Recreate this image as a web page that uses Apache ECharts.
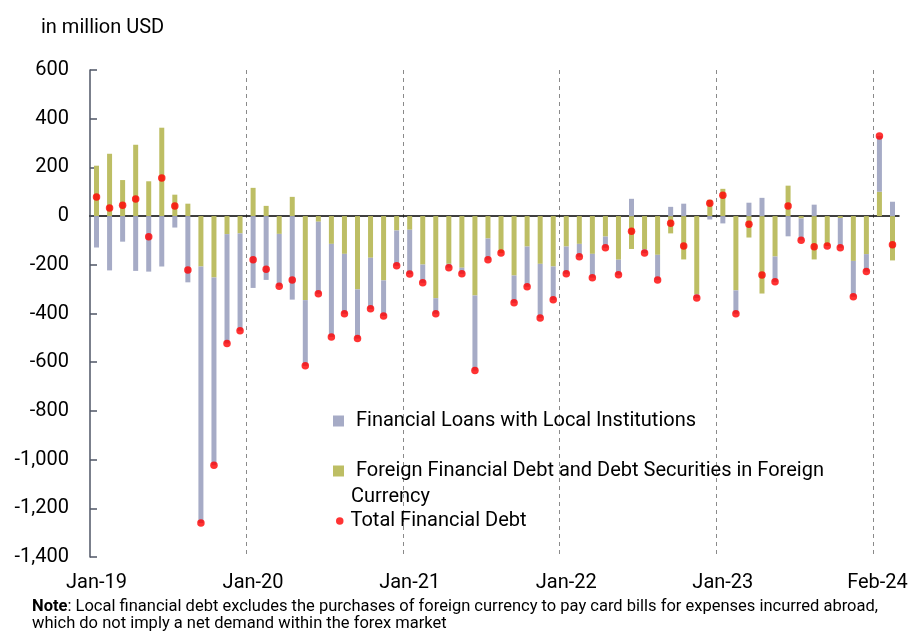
<!DOCTYPE html>
<html><head><meta charset="utf-8">
<script src="https://cdn.jsdelivr.net/npm/echarts@6/dist/echarts.min.js"></script>
<style>html,body{margin:0;padding:0;background:#fff}#c{width:908px;height:631px}</style>
</head><body><div id="c"></div>
<script>
const categories = [
 'Jan-19','Feb-19','Mar-19','Apr-19','May-19','Jun-19','Jul-19','Aug-19','Sep-19','Oct-19','Nov-19','Dec-19',
 'Jan-20','Feb-20','Mar-20','Apr-20','May-20','Jun-20','Jul-20','Aug-20','Sep-20','Oct-20','Nov-20','Dec-20',
 'Jan-21','Feb-21','Mar-21','Apr-21','May-21','Jun-21','Jul-21','Aug-21','Sep-21','Oct-21','Nov-21','Dec-21',
 'Jan-22','Feb-22','Mar-22','Apr-22','May-22','Jun-22','Jul-22','Aug-22','Sep-22','Oct-22','Nov-22','Dec-22',
 'Jan-23','Feb-23','Mar-23','Apr-23','May-23','Jun-23','Jul-23','Aug-23','Sep-23','Oct-23','Nov-23','Dec-23',
 'Jan-24','Feb-24'
];
const foreignDebt = [
 207, 256, 148, 293, 143, 363, 88, 51, -207, -252, -74, -71,
 116, 42, -73, 79, -345, -23, -114, -155, -301, -171, -264, -59,
 -56, -199, -337, -196, -212, -326, -92, -152, -244, -125, -196, -207,
 -125, -114, -155, -84, -179, -135, -136, -159, -71, -178, -321, 67,
 112, -305, -88, -318, -166, 125, -10, -178, -123, -8, -184, -156,
 100, -182
];
const localLoans = [
 -129, -223, -105, -225, -228, -207, -47, -272, -1053, -771, -449, -400,
 -295, -262, -215, -343, -270, -296, -382, -246, -202, -210, -146, -145,
 -182, -75, -64, -16, -25, -308, -87, 0, -112, -165, -222, -137,
 -112, -53, -98, -46, -62, 71, -16, -103, 38, 51, -15, -14,
 -30, -96, 55, 75, -104, -83, -89, 47, 0, -122, -147, -72,
 229, 59
];
const totalDebt = [
 78, 33, 45, 70, -85, 156, 41, -221, -1260, -1023, -523, -471,
 -179, -218, -288, -262, -615, -319, -496, -401, -503, -381, -410, -204,
 -238, -274, -401, -212, -237, -634, -179, -152, -356, -290, -418, -344,
 -237, -167, -253, -130, -241, -62, -152, -262, -29, -123, -336, 53,
 86, -401, -33, -242, -270, 41, -99, -126, -123, -130, -331, -228,
 329, -118
];
const xTickLabels = ['Jan-19', 'Jan-20', 'Jan-21', 'Jan-22', 'Jan-23', 'Feb-24'];
const yearStartStep = 12;
const yTicks = { min: -1400, max: 600, interval: 200 };

const NAME_LOANS = 'Financial Loans with Local Institutions';
const NAME_FOREIGN = 'Foreign Financial Debt and Debt Securities in Foreign Currency';
const NAME_TOTAL = 'Total Financial Debt';
const FONT = 'Roboto';
const lastLabel = xTickLabels[xTickLabels.length - 1];

const chart = echarts.init(document.getElementById('c'), null, { renderer: 'canvas' });
chart.setOption({
  animation: false,
  backgroundColor: '#ffffff',
  textStyle: { fontFamily: FONT },
  title: [
    { text: 'in million USD', left: 36, top: 13,
      textStyle: { fontFamily: FONT, fontSize: 20, fontWeight: 'normal', color: '#000' } },
    { text: '{b|Note}: Local financial debt excludes the purchases of foreign currency to pay card bills for expenses incurred abroad,\nwhich do not imply a net demand within the forex market',
      left: 27, top: 593,
      textStyle: { fontFamily: FONT, fontSize: 16.5, fontWeight: 'normal', color: '#000', lineHeight: 17,
        rich: { b: { fontFamily: FONT, fontSize: 16.5, fontWeight: 'bold', color: '#000', lineHeight: 17 } } } }
  ],
  grid: { left: 90, right: 9, top: 70, bottom: 74, containLabel: false, outerBoundsMode: 'none' },
  legend: [
    { data: [NAME_LOANS], left: 333, top: 410, padding: 0, icon: 'rect', itemWidth: 11, itemHeight: 11,
      textStyle: { fontFamily: FONT, fontSize: 20, color: '#000', lineHeight: 22, padding: [0, 0, 0, 7] } },
    { data: [NAME_FOREIGN], left: 333, top: 460, padding: 0, icon: 'rect', itemWidth: 11, itemHeight: 11,
      formatter: () => 'Foreign Financial Debt and Debt Securities in Foreign',
      textStyle: { fontFamily: FONT, fontSize: 20, color: '#000', lineHeight: 22, padding: [0, 0, 0, 7] } },
    { data: [NAME_TOTAL], left: 336, top: 510, padding: 0, icon: 'circle', itemWidth: 7.5, itemHeight: 7.5,
      textStyle: { fontFamily: FONT, fontSize: 20, color: '#000', lineHeight: 22, padding: [0, 0, 0, 2] } }
  ],
  graphic: [
    { type: 'text', left: 351, top: 487,
      style: { text: 'Currency', fontFamily: FONT, fontSize: 20, fill: '#000' } }
  ],
  xAxis: [
    { type: 'category', data: categories, boundaryGap: true,
      axisLine: { show: true, onZero: true, lineStyle: { color: '#000', width: 1.5 } },
      axisTick: { show: false }, axisLabel: { show: false }, splitLine: { show: false } },
    { type: 'value', min: 0, max: categories.length, interval: yearStartStep, position: 'bottom',
      axisLine: { show: false, onZero: false }, axisTick: { show: false },
      splitLine: { show: true, showMinLine: false, showMaxLine: false,
        lineStyle: { color: '#8a8a8a', type: [4, 4], width: 1 } },
      axisLabel: { show: false } },
    { type: 'category', data: categories, boundaryGap: true, position: 'bottom',
      axisLine: { show: false, onZero: false }, axisTick: { show: false }, splitLine: { show: false },
      axisLabel: { show: true, margin: 16, fontFamily: FONT, fontSize: 20, color: '#000',
        interval: (i, v) => xTickLabels.indexOf(v) >= 0,
        formatter: (v) => v === lastLabel ? '{last|' + v + '}' : v,
        rich: { last: { fontFamily: FONT, fontSize: 20, color: '#000', padding: [0, 30, 0, 0] } } } }
  ],
  yAxis: {
    type: 'value', min: yTicks.min, max: yTicks.max, interval: yTicks.interval,
    axisLine: { show: true, lineStyle: { color: '#4f5666', width: 1.5 } },
    axisTick: { show: true, inside: true, length: 7, lineStyle: { color: '#4f5666', width: 1.5 } },
    splitLine: { show: false },
    axisLabel: { margin: 21, fontFamily: FONT, fontSize: 20, color: '#000',
      formatter: (v) => v.toLocaleString('en-US') }
  },
  series: [
    { name: NAME_FOREIGN, type: 'bar', stack: 'debt', xAxisIndex: 0, data: foreignDebt,
      barWidth: 5, itemStyle: { color: '#bdbe64' } },
    { name: NAME_LOANS, type: 'bar', stack: 'debt', xAxisIndex: 0, data: localLoans,
      barWidth: 5, itemStyle: { color: '#a6abc6' } },
    { name: NAME_TOTAL, type: 'scatter', xAxisIndex: 0, data: totalDebt,
      symbol: 'circle', symbolSize: 7.5, itemStyle: { color: '#ff0000' }, z: 5 }
  ]
});
</script></body></html>
